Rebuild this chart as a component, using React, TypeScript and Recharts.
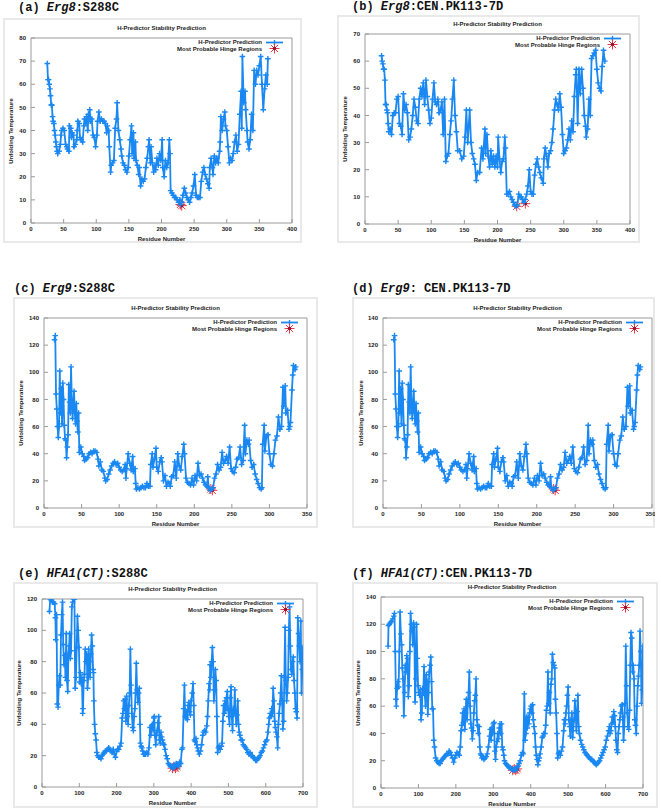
import {
  ComposedChart,
  Line,
  Scatter,
  XAxis,
  YAxis,
  ReferenceArea,
  Legend,
} from "recharts";
import type { CSSProperties } from "react";

// residue number, unfolding temperature
const erg8S288c = [
  [25, 69], [26, 62], [27, 62], [28, 60], [29, 58], [30, 55], [31, 51], [32, 51], [33, 46], [34, 44],
  [35, 43], [36, 40], [37, 38], [38, 35], [39, 33], [40, 31], [41, 30], [43, 31], [45, 34], [46, 38],
  [47, 40], [49, 41], [51, 40], [53, 34], [55, 33], [56, 32], [58, 31], [59, 42], [61, 41], [62, 37],
  [63, 39], [65, 38], [66, 33], [68, 34], [70, 36], [71, 40], [72, 44], [74, 43], [75, 37], [77, 36],
  [79, 35], [81, 42], [82, 45], [84, 43], [85, 46], [87, 40], [88, 47], [90, 49], [91, 44], [93, 45],
  [95, 38], [97, 37], [99, 33], [101, 38], [102, 44], [104, 48], [106, 44], [108, 45], [110, 44], [112, 44],
  [114, 43], [116, 39], [117, 42], [119, 40], [120, 33], [122, 22], [123, 25], [125, 26], [127, 27], [129, 41],
  [131, 45], [132, 52], [134, 40], [136, 36], [138, 32], [139, 29], [141, 26], [143, 25], [145, 23], [147, 22],
  [149, 24], [150, 29], [152, 36], [154, 42], [155, 30], [157, 39], [158, 28], [160, 35], [161, 27], [163, 25],
  [165, 21], [166, 24], [168, 16], [170, 19], [172, 18], [174, 19], [176, 24], [178, 28], [180, 33], [181, 36],
  [183, 26], [184, 33], [186, 26], [188, 22], [190, 25], [191, 23], [193, 28], [195, 25], [197, 30], [199, 27],
  [201, 36], [202, 24], [204, 20], [206, 27], [208, 24], [210, 26], [212, 36], [213, 30], [214, 14], [216, 13],
  [218, 12], [220, 11], [222, 11], [224, 10], [226, 9], [228, 10], [229, 8], [231, 9], [233, 12], [235, 15],
  [237, 13], [239, 11], [241, 10], [243, 9], [245, 11], [247, 13], [249, 16], [251, 21], [253, 12], [255, 11],
  [257, 11], [259, 11], [261, 18], [263, 22], [265, 24], [267, 21], [269, 19], [271, 17], [273, 15], [274, 24],
  [276, 28], [278, 24], [279, 21], [281, 29], [283, 26], [285, 28], [287, 26], [289, 31], [290, 35], [291, 46],
  [293, 40], [295, 45], [297, 48], [298, 42], [300, 40], [302, 33], [304, 26], [306, 28], [308, 27], [310, 30],
  [312, 35], [314, 38], [316, 31], [318, 34], [320, 47], [322, 57], [323, 41], [324, 72], [326, 52], [328, 57],
  [329, 49], [331, 40], [332, 35], [334, 32], [336, 36], [338, 47], [340, 40], [342, 66], [344, 60], [346, 66],
  [348, 64], [350, 68], [352, 72], [354, 60], [356, 49], [358, 58], [360, 64], [362, 60], [363, 71],
];
const erg8S288cHinge = [[229, 8], [231, 7.5]];

const erg8Cen = [
  [25, 62], [26, 60], [27, 59], [28, 57], [29, 57], [30, 53], [31, 44], [32, 44], [33, 42], [34, 41],
  [35, 37], [36, 34], [38, 35], [40, 33], [42, 40], [44, 41], [46, 41], [48, 46], [50, 47], [52, 37],
  [54, 36], [56, 33], [58, 48], [60, 42], [62, 44], [64, 41], [66, 31], [68, 32], [70, 35], [72, 40],
  [74, 46], [76, 43], [78, 38], [80, 37], [82, 46], [84, 50], [86, 47], [88, 52], [90, 44], [92, 53],
  [94, 47], [96, 42], [98, 37], [100, 39], [102, 46], [104, 52], [106, 45], [108, 44], [110, 46], [112, 41],
  [114, 42], [116, 45], [118, 33], [120, 46], [122, 23], [124, 25], [126, 26], [128, 33], [130, 38], [132, 46],
  [134, 53], [136, 40], [138, 34], [140, 27], [143, 27], [146, 24], [149, 25], [151, 32], [153, 42], [155, 30],
  [158, 42], [160, 30], [162, 26], [164, 24], [166, 22], [168, 16], [170, 19], [173, 19], [176, 28], [178, 24],
  [181, 35], [182, 26], [184, 33], [186, 25], [188, 21], [190, 27], [192, 22], [194, 25], [196, 21], [198, 25],
  [200, 21], [201, 32], [203, 24], [205, 19], [207, 23], [209, 24], [211, 32], [212, 28], [214, 11], [216, 11],
  [218, 12], [220, 10], [222, 9], [224, 8], [226, 7], [228, 6.5], [230, 7], [232, 11], [234, 10], [236, 10],
  [238, 9], [240, 8], [242, 9], [244, 11], [246, 14], [248, 20], [250, 12], [252, 11], [254, 11], [256, 18],
  [258, 22], [260, 24], [262, 21], [264, 19], [266, 17], [269, 15], [270, 24], [272, 28], [274, 25], [276, 21],
  [278, 26], [280, 27], [282, 30], [284, 35], [286, 42], [288, 46], [290, 44], [292, 42], [294, 48], [296, 43],
  [298, 33], [300, 26], [302, 27], [304, 28], [306, 31], [308, 35], [310, 31], [312, 38], [314, 34], [316, 47],
  [318, 55], [319, 57], [321, 37], [323, 57], [325, 48], [327, 57], [329, 50], [331, 40], [333, 36], [334, 32],
  [336, 35], [338, 46], [340, 40], [342, 61], [344, 62], [346, 63], [348, 64], [350, 57], [352, 52], [354, 50],
  [356, 49], [358, 58], [360, 64], [362, 60],
];
const erg8CenHinge = [[229, 6.5], [242, 7.5]];

const erg9 = [
  [14, 124], [15, 127], [16, 84], [17, 73], [18, 60], [19, 52], [20, 60], [21, 101], [22, 70], [23, 88],
  [24, 62], [25, 92], [26, 80], [27, 61], [28, 51], [29, 50], [30, 37], [31, 45], [32, 54], [33, 91],
  [34, 78], [35, 70], [36, 104], [37, 80], [38, 66], [39, 75], [40, 86], [41, 70], [42, 62], [43, 77],
  [44, 64], [45, 56], [46, 70], [47, 41], [49, 45], [51, 40], [53, 38], [54, 35], [56, 36], [58, 37],
  [60, 40], [62, 41], [64, 40], [66, 42], [68, 42], [70, 41], [72, 36], [73, 31], [75, 34], [77, 28],
  [79, 27], [81, 22], [82, 20], [84, 21], [86, 25], [88, 28], [90, 31], [92, 33], [94, 34], [96, 32],
  [98, 33], [100, 30], [102, 28], [104, 27], [106, 28], [108, 32], [109, 22], [110, 29], [112, 40], [114, 33],
  [116, 28], [118, 38], [119, 27], [121, 29], [122, 18], [123, 14], [125, 15], [127, 14], [129, 15], [131, 16],
  [133, 15], [135, 15], [137, 18], [139, 16], [141, 16], [142, 32], [144, 40], [145, 30], [147, 36], [149, 44],
  [150, 30], [152, 27], [154, 34], [156, 37], [157, 34], [159, 20], [161, 24], [163, 16], [165, 19], [167, 18],
  [168, 16], [170, 23], [172, 24], [174, 34], [176, 22], [178, 40], [180, 31], [182, 28], [184, 38], [186, 47],
  [187, 40], [189, 22], [191, 19], [193, 18], [195, 17], [197, 22], [199, 17], [201, 24], [203, 20], [205, 33],
  [207, 24], [209, 25], [211, 22], [213, 19], [215, 17], [217, 16], [218, 23], [219, 15], [221, 13], [223, 14],
  [225, 15], [227, 22], [229, 25], [231, 32], [233, 28], [235, 30], [237, 41], [239, 33], [241, 35], [243, 38],
  [245, 33], [247, 45], [249, 29], [251, 27], [253, 26], [255, 30], [257, 36], [259, 37], [261, 45], [263, 32],
  [265, 35], [267, 61], [268, 40], [270, 50], [272, 47], [273, 50], [275, 35], [277, 30], [279, 32], [281, 25],
  [283, 21], [285, 18], [287, 15], [289, 14], [290, 15], [291, 47], [293, 61], [294, 42], [296, 53], [298, 54],
  [300, 40], [302, 32], [304, 31], [306, 40], [308, 50], [310, 53], [312, 67], [314, 58], [316, 60], [318, 89],
  [319, 75], [321, 90], [322, 70], [324, 72], [326, 58], [327, 60], [328, 63], [330, 87], [331, 98], [332, 105],
  [334, 102], [335, 104],
];
const erg9Hinge = [[222, 14], [224, 13]];

const hfa1S288c = [
  [20, 112], [22, 120], [25, 119], [28, 118], [31, 118], [34, 117], [36, 108], [37, 94], [39, 110], [41, 53],
  [43, 51], [45, 65], [47, 71], [49, 65], [51, 97], [53, 110], [55, 118], [57, 91], [59, 78], [61, 84],
  [63, 70], [65, 98], [67, 68], [69, 61], [71, 85], [73, 90], [74, 98], [76, 82], [78, 87], [80, 115],
  [82, 118], [85, 120], [87, 120], [89, 63], [91, 70], [93, 89], [95, 109], [97, 100], [99, 89], [101, 67],
  [103, 73], [105, 66], [107, 70], [109, 47], [110, 50], [112, 68], [114, 72], [116, 88], [118, 80], [120, 85],
  [122, 63], [124, 70], [125, 88], [127, 80], [129, 70], [131, 85], [133, 97], [135, 90], [137, 75], [138, 73],
  [139, 55], [141, 40], [143, 34], [145, 30], [147, 22], [149, 20], [152, 19], [155, 19], [158, 18], [161, 20],
  [164, 21], [167, 22], [170, 23], [173, 23], [176, 24], [179, 25], [182, 24], [185, 23], [188, 22], [191, 24],
  [194, 21], [197, 19], [200, 23], [203, 24], [206, 24], [209, 26], [212, 28], [215, 44], [217, 47], [219, 55],
  [221, 50], [223, 56], [225, 42], [227, 58], [229, 45], [231, 40], [233, 52], [235, 60], [237, 88], [239, 65],
  [241, 47], [243, 38], [245, 36], [247, 45], [249, 50], [251, 60], [253, 79], [255, 62], [257, 54], [259, 60],
  [261, 63], [263, 40], [264, 28], [266, 26], [268, 25], [270, 23], [272, 21], [275, 21], [278, 21], [281, 22],
  [284, 21], [287, 25], [290, 38], [292, 33], [294, 39], [296, 40], [298, 36], [300, 44], [301, 45], [303, 33],
  [305, 27], [307, 33], [309, 36], [311, 41], [313, 45], [315, 30], [317, 28], [319, 35], [321, 32], [323, 30],
  [325, 28], [327, 27], [330, 24], [333, 20], [336, 18], [339, 15], [342, 14], [345, 13], [348, 13], [351, 12],
  [354, 14], [357, 13], [360, 15], [363, 14], [366, 13], [369, 16], [372, 15], [375, 24], [377, 25], [380, 50],
  [382, 65], [384, 45], [386, 44], [388, 48], [390, 43], [392, 52], [394, 54], [396, 48], [398, 46], [400, 55],
  [403, 60], [405, 66], [407, 52], [409, 30], [411, 29], [413, 31], [415, 27], [417, 25], [419, 23], [422, 21],
  [425, 23], [428, 27], [431, 33], [433, 35], [436, 36], [439, 35], [442, 39], [444, 45], [446, 55], [448, 66],
  [450, 62], [451, 78], [453, 70], [455, 80], [457, 89], [459, 80], [461, 55], [463, 62], [465, 75], [467, 68],
  [469, 45], [471, 22], [473, 25], [475, 26], [478, 24], [481, 26], [483, 28], [485, 42], [487, 52], [489, 47],
  [491, 55], [493, 49], [495, 57], [497, 61], [499, 50], [501, 45], [503, 40], [505, 57], [507, 64], [509, 45],
  [511, 36], [513, 50], [515, 47], [517, 62], [519, 48], [521, 40], [523, 46], [525, 55], [527, 40], [529, 35],
  [531, 33], [534, 30], [537, 30], [540, 27], [543, 26], [546, 25], [549, 24], [552, 22], [555, 21], [558, 22],
  [561, 20], [564, 20], [567, 19], [570, 18], [573, 17], [576, 17], [579, 18], [582, 19], [585, 20], [588, 22],
  [591, 23], [594, 25], [597, 27], [600, 29], [603, 30], [606, 35], [608, 40], [610, 44], [612, 47], [614, 45],
  [616, 50], [618, 47], [620, 63], [622, 55], [624, 42], [626, 38], [628, 35], [630, 32], [632, 25], [634, 40],
  [636, 47], [638, 53], [640, 60], [642, 71], [644, 55], [646, 37], [648, 42], [650, 70], [652, 102], [654, 68],
  [656, 55], [658, 60], [660, 70], [662, 100], [664, 115], [666, 90], [668, 75], [670, 72], [672, 80], [674, 83],
  [676, 68], [678, 60], [680, 50], [682, 48], [684, 44], [686, 108], [688, 98], [690, 90], [692, 80], [694, 106],
  [696, 60], [698, 75], [700, 89],
];
const hfa1S288cHinge = [[350, 12], [354, 13], [358, 12], [362, 13]];

const hfa1Cen = [
  [19, 104], [20, 119], [22, 120], [25, 121], [28, 122], [31, 124], [34, 126], [36, 128], [38, 100], [40, 65],
  [41, 60], [43, 73], [45, 78], [47, 74], [49, 100], [51, 129], [53, 113], [55, 105], [57, 88], [59, 80],
  [61, 53], [63, 70], [65, 90], [67, 85], [69, 97], [71, 95], [73, 67], [75, 75], [77, 100], [79, 128],
  [81, 120], [83, 115], [85, 105], [87, 121], [89, 118], [91, 63], [93, 80], [95, 120], [97, 95], [99, 75],
  [101, 70], [103, 68], [105, 72], [107, 50], [109, 55], [111, 73], [113, 70], [115, 89], [117, 68], [119, 60],
  [121, 83], [123, 78], [125, 54], [127, 70], [129, 85], [131, 90], [133, 96], [135, 78], [137, 58], [139, 58],
  [141, 35], [143, 30], [146, 22], [149, 20], [152, 19], [155, 18], [158, 18], [161, 20], [164, 21], [167, 22],
  [170, 23], [173, 24], [176, 25], [179, 25], [182, 27], [185, 26], [188, 24], [191, 22], [194, 19], [197, 22],
  [200, 24], [203, 26], [206, 25], [209, 24], [212, 30], [214, 42], [216, 46], [218, 55], [220, 48], [222, 58],
  [224, 43], [226, 55], [228, 65], [230, 50], [232, 62], [234, 70], [236, 85], [238, 60], [240, 47], [242, 44],
  [244, 36], [246, 42], [248, 55], [250, 64], [252, 68], [254, 80], [256, 50], [258, 46], [260, 40], [262, 45],
  [264, 30], [266, 25], [268, 24], [270, 22], [272, 23], [275, 21], [278, 22], [281, 23], [284, 25], [287, 30],
  [290, 38], [292, 43], [294, 35], [296, 44], [298, 40], [300, 47], [302, 48], [304, 27], [306, 21], [308, 30],
  [310, 34], [312, 40], [314, 36], [316, 44], [318, 47], [320, 40], [322, 47], [324, 30], [326, 28], [328, 24],
  [330, 20], [333, 18], [336, 17], [339, 16], [342, 15], [345, 15], [348, 14], [351, 14], [354, 13], [357, 14],
  [360, 13], [363, 15], [366, 16], [369, 18], [372, 20], [375, 24], [378, 26], [380, 25], [383, 69], [385, 35],
  [387, 40], [389, 52], [391, 44], [393, 52], [395, 47], [397, 55], [399, 58], [401, 60], [403, 55], [405, 61],
  [407, 50], [409, 45], [411, 40], [413, 30], [415, 24], [417, 21], [419, 17], [421, 20], [423, 22], [425, 25],
  [428, 30], [431, 37], [433, 38], [435, 40], [438, 40], [440, 46], [442, 57], [444, 60], [446, 85], [448, 62],
  [450, 70], [452, 55], [454, 76], [456, 80], [458, 98], [460, 92], [462, 90], [464, 88], [466, 65], [468, 55],
  [470, 40], [472, 22], [474, 25], [476, 26], [479, 24], [482, 27], [485, 30], [488, 42], [490, 50], [492, 47],
  [494, 55], [496, 60], [498, 68], [500, 74], [502, 50], [504, 45], [506, 38], [508, 50], [510, 55], [512, 37],
  [514, 45], [516, 50], [518, 64], [520, 55], [522, 42], [524, 56], [526, 68], [528, 45], [530, 40], [533, 35],
  [536, 32], [539, 30], [542, 28], [545, 26], [548, 25], [551, 24], [554, 23], [557, 22], [560, 21], [563, 21],
  [566, 20], [569, 19], [572, 18], [575, 17], [578, 18], [581, 19], [584, 20], [587, 22], [590, 24], [593, 26],
  [596, 28], [599, 30], [602, 35], [605, 38], [608, 42], [610, 45], [612, 40], [614, 42], [616, 47], [618, 52],
  [620, 48], [622, 56], [624, 53], [626, 45], [628, 35], [630, 28], [632, 26], [634, 40], [636, 45], [638, 50],
  [640, 55], [642, 60], [644, 61], [646, 52], [648, 35], [650, 45], [652, 62], [654, 104], [656, 75], [658, 55],
  [660, 45], [662, 43], [664, 57], [666, 90], [668, 114], [670, 110], [672, 85], [674, 90], [676, 80], [678, 50],
  [680, 46], [682, 40], [684, 60], [686, 75], [688, 82], [690, 90], [692, 115], [694, 100], [696, 62], [698, 72],
  [700, 104],
];
const hfa1CenHinge = [[352, 13], [356, 14], [360, 13], [364, 14]];

const xTicks400 = [0, 50, 100, 150, 200, 250, 300, 350, 400];
const xTicks350 = [0, 50, 100, 150, 200, 250, 300, 350];
const xTicks700 = [0, 100, 200, 300, 400, 500, 600, 700];
const yTicks80 = [0, 10, 20, 30, 40, 50, 60, 70, 80];
const yTicks70 = [0, 10, 20, 30, 40, 50, 60, 70];
const yTicks140 = [0, 20, 40, 60, 80, 100, 120, 140];
const yTicks120 = [0, 20, 40, 60, 80, 100, 120];

const BLUE = "#1a88f2";
const AXIS = "#9a9a9a";
const SMALL = "Liberation Sans, Arial, sans-serif";

const pts = (arr: number[][]) => arr.map(([x, y]) => ({ x, y }));

const panels = [
  { tag: "(a) ", gene: "Erg8", strain: ":S288C", tx: 18, ty: 7.5, frame: [3, 18, 299, 225], plot: [31, 38, 292, 223], xt: xTicks400, yt: yTicks80, series: erg8S288c, hinge: erg8S288cHinge, ylx: 8 },
  { tag: "(b) ", gene: "Erg8", strain: ":CEN.PK113-7D", tx: 352, ty: 6.5, frame: [337, 15, 303, 228], plot: [365, 34, 630, 224], xt: xTicks400, yt: yTicks70, series: erg8Cen, hinge: erg8CenHinge, ylx: 8 },
  { tag: "(c) ", gene: "Erg9", strain: ":S288C", tx: 14, ty: 289, frame: [13, 297, 305, 231], plot: [44, 318, 307, 508], xt: xTicks350, yt: yTicks140, series: erg9, hinge: erg9Hinge, ylx: 8 },
  { tag: "(d) ", gene: "Erg9", strain: ": CEN.PK113-7D", tx: 352, ty: 289, frame: [352, 297, 303, 231], plot: [383, 318, 652, 508], xt: xTicks350, yt: yTicks140, series: erg9, hinge: erg9Hinge, ylx: 9 },
  { tag: "(e) ", gene: "HFA1(CT)", strain: ":S288C", tx: 18, ty: 574, frame: [13, 582, 305, 226], plot: [42, 599, 303, 787], xt: xTicks700, yt: yTicks120, series: hfa1S288c, hinge: hfa1S288cHinge, ylx: 6 },
  { tag: "(f) ", gene: "HFA1(CT)", strain: ":CEN.PK113-7D", tx: 352, ty: 574, frame: [352, 582, 306, 226], plot: [381, 597, 643, 788], xt: xTicks700, yt: yTicks140, series: hfa1Cen, hinge: hfa1CenHinge, ylx: 6 },
];

function PlusDot(props: any) {
  const { cx, cy, index } = props;
  if (cx == null || cy == null) return <g key={`p${index}`} />;
  return (
    <path
      key={`p${index}`}
      d={`M${cx - 2.8} ${cy}H${cx + 2.8}M${cx} ${cy - 2.8}V${cy + 2.8}`}
      stroke={BLUE}
      strokeWidth={1.4}
      fill="none"
    />
  );
}

function Star({ cx, cy }: { cx: number; cy: number }) {
  const r = 5;
  const d = 3.6;
  return (
    <g>
      <path
        d={`M${cx - r} ${cy}H${cx + r}M${cx} ${cy - r}V${cy + r}M${cx - d} ${cy - d}L${cx + d} ${cy + d}M${cx - d} ${cy + d}L${cx + d} ${cy - d}`}
        stroke="#ea3a44"
        strokeWidth={1}
      />
      <circle cx={cx} cy={cy} r={1.8} fill="#9c1233" />
    </g>
  );
}

function HingeShape(props: any) {
  return <Star cx={props.cx} cy={props.cy} />;
}

function LegendBox() {
  const row: CSSProperties = { display: "flex", justifyContent: "flex-end", alignItems: "center", height: 6.5 };
  return (
    <div style={{ fontFamily: SMALL, fontSize: 6, fontWeight: "bold", lineHeight: "6px", color: "#222" }}>
      <div style={row}>
        <span>H-Predictor Prediction</span>
        <svg width={22} height={7} style={{ marginLeft: 2 }}>
          <path d="M2 3.5H19" stroke={BLUE} strokeWidth={1.8} />
          <path d="M10.5 1V6" stroke={BLUE} strokeWidth={1.4} />
        </svg>
      </div>
      <div style={row}>
        <span>Most Probable Hinge Regions</span>
        <svg width={22} height={7} style={{ marginLeft: 2, overflow: "visible" }}>
          <Star cx={10.5} cy={3.5} />
        </svg>
      </div>
    </div>
  );
}

function Panel({ p }: { p: (typeof panels)[number] }) {
  const [fx, fy, fw, fh] = p.frame;
  const [pl, pt, pr, pb] = p.plot;
  const xMax = p.xt[p.xt.length - 1];
  const yMax = p.yt[p.yt.length - 1];
  const plotMid = (pl + pr) / 2 - fx;
  const tick = { fontFamily: SMALL, fontSize: 6, fontWeight: "bold", fill: "#222" };
  return (
    <>
      <div style={{ ...titleStyle, left: p.tx, top: p.ty - 7 }}>
        {p.tag}
        <i>{p.gene}</i>
        {p.strain}
      </div>
      <div
        style={{
          position: "absolute",
          left: fx,
          top: fy,
          width: fw,
          height: fh,
          background: "#fff",
          boxShadow: "inset 0 0 0 2px #e9e9e9",
        }}
      >
        <div style={{ ...smallText, left: plotMid, top: pt - fy - 10, transform: "translate(-50%, -50%)" }}>
          H-Predictor Stability Prediction
        </div>
        <div style={{ ...smallText, left: plotMid, top: pb - fy + 16, transform: "translate(-50%, -50%)" }}>
          Residue Number
        </div>
        <div
          style={{
            ...smallText,
            left: p.ylx,
            top: (pt + pb) / 2 - fy,
            transform: "translate(-50%, -50%) rotate(-90deg)",
          }}
        >
          Unfolding Temperature
        </div>
        <ComposedChart
          width={fw}
          height={fh}
          margin={{ top: pt - fy, right: fx + fw - pr, bottom: 0, left: 0 }}
          style={{ position: "absolute", left: 0, top: 0 }}
        >
          <XAxis
            type="number"
            dataKey="x"
            domain={[0, xMax]}
            ticks={p.xt}
            allowDataOverflow
            height={fy + fh - pb}
            axisLine={false}
            tickLine={{ stroke: AXIS }}
            tickSize={-4}
            tickMargin={8}
            tick={tick}
          />
          <XAxis
            xAxisId="top"
            orientation="top"
            type="number"
            domain={[0, xMax]}
            ticks={p.xt}
            height={0}
            axisLine={false}
            tickLine={{ stroke: AXIS }}
            tickSize={-4}
            tick={false}
          />
          <YAxis
            type="number"
            domain={[0, yMax]}
            ticks={p.yt}
            allowDataOverflow
            width={pl - fx}
            axisLine={false}
            tickLine={{ stroke: AXIS }}
            tickSize={-4}
            tickMargin={9}
            tick={tick}
          />
          <YAxis
            yAxisId="right"
            orientation="right"
            type="number"
            domain={[0, yMax]}
            ticks={p.yt}
            width={0}
            axisLine={false}
            tickLine={{ stroke: AXIS }}
            tickSize={-4}
            tick={false}
          />
          <ReferenceArea x1={0} x2={xMax} y1={0} y2={yMax} fill="none" fillOpacity={0} stroke={AXIS} strokeWidth={1} />
          <Line
            data={pts(p.series)}
            dataKey="y"
            type="linear"
            stroke={BLUE}
            strokeWidth={1.8}
            dot={PlusDot}
            activeDot={false}
            isAnimationActive={false}
          />
          <Scatter data={pts(p.hinge)} dataKey="y" shape={HingeShape} isAnimationActive={false} />
          <Legend
            layout="vertical"
            align="center"
            verticalAlign="middle"
            width={140}
            wrapperStyle={{ left: pr - fx - 146, top: pt - fy + 1, width: 140 }}
            content={() => <LegendBox />}
          />
        </ComposedChart>
      </div>
    </>
  );
}

export default function App() {
  return (
    <div style={{ position: "absolute", left: 0, top: 0, width: 661, height: 811, background: "#fff" }}>
      {panels.map((p) => (
        <Panel key={p.tag} p={p} />
      ))}
    </div>
  );
}

const titleStyle: CSSProperties = {
  position: "absolute",
  fontFamily: "Liberation Mono, monospace",
  fontWeight: "bold",
  fontSize: 12,
  lineHeight: "14px",
  whiteSpace: "nowrap",
  color: "#111",
};

const smallText: CSSProperties = {
  position: "absolute",
  fontFamily: SMALL,
  fontSize: 6,
  fontWeight: "bold",
  lineHeight: "7px",
  whiteSpace: "nowrap",
  color: "#222",
  zIndex: 1,
};
